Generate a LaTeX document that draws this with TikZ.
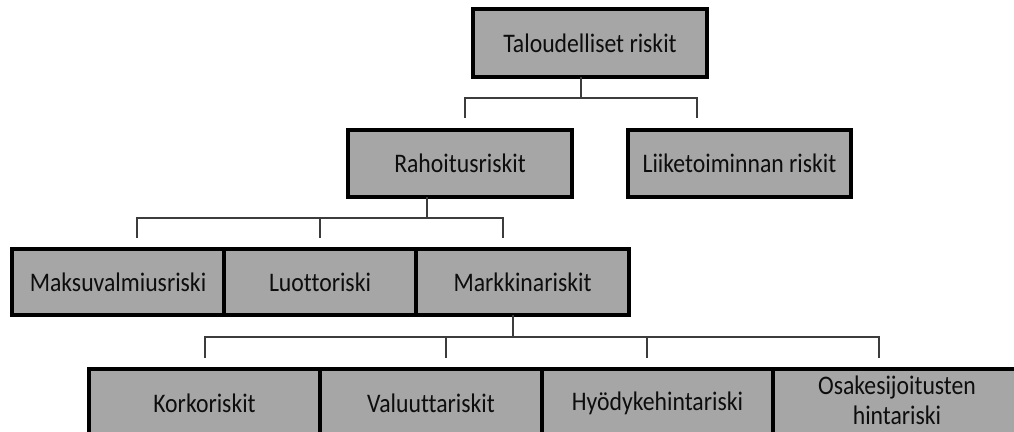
\documentclass[tikz,border=0pt]{standalone}
\usepackage{fontspec}
\setmainfont[Ligatures={NoCommon},FakeStretch=0.885]{Carlito}
\definecolor{boxgray}{RGB}{166,166,166}
\definecolor{linegray}{RGB}{60,60,60}
\newcommand{\px}{0.75pt}
\tikzset{
  riskbox/.style={draw=black, fill=boxgray, line width=2.3pt, inner sep=0pt,
    text=black!95, align=center, font=\fontsize{20.1}{23}\selectfont},
  tree/.style={draw=linegray, line width=1.1pt}
}
\begin{document}
\begin{tikzpicture}[x=0.75pt,y=-0.75pt]
\useasboundingbox (0,0) rectangle (1014,432);
\clip (0,0) rectangle (1014,432);
%%% top level
\node[riskbox, minimum width=234*\px, minimum height=68*\px] (tal) at (590,43) {Taloudelliset riskit};
%%% second level
\node[riskbox, minimum width=224*\px, minimum height=67*\px] (rah) at (460,163.5) {Rahoitusriskit};
\node[riskbox, minimum width=223*\px, minimum height=67*\px] (lii) at (739.5,163.5) {Liiketoiminnan riskit};
%%%%%% third level (boxes side by side)
\node[riskbox, minimum width=212*\px, minimum height=66*\px] (mak) at (118,282) {Maksuvalmiusriski};
\node[riskbox, minimum width=192*\px, minimum height=66*\px] (luo) at (320,282) {Luottoriski};
\node[riskbox, minimum width=213*\px, minimum height=66*\px] (mar) at (522.5,282) {Markkinariskit};
%%%%%% fourth level
\node[riskbox, minimum width=231*\px, minimum height=68*\px] (kor) at (204.5,403) {Korkoriskit};
\node[riskbox, minimum width=222*\px, minimum height=68*\px] (val) at (431,403) {Valuuttariskit};
\node[riskbox, minimum width=231*\px, minimum height=68*\px] (hyo) at (657.5,403) {Hyödykehintariski};
\node[riskbox, minimum width=248*\px, minimum height=68*\px, text depth=4pt] (osa) at (897,403) {Osakesijoitusten\\hintariski};
%%%%% bracket under Taloudelliset riskit
\coordinate (talstem) at (581,77);
\coordinate (talbar) at (581,98);
\coordinate (rahdrop) at (465,118);
\coordinate (liidrop) at (697,118);
\draw[tree] (talstem) -- (talbar);
\draw[tree] (rahdrop) |- (talbar) -| (liidrop);
%%%%% bracket under Rahoitusriskit
\coordinate (rahstem) at (427,197);
\coordinate (rahbar) at (427,218);
\coordinate (makdrop) at (137,238);
\coordinate (luodrop) at (320,238);
\coordinate (mardrop) at (503,238);
\draw[tree] (rahstem) -- (rahbar);
\draw[tree] (makdrop) |- (rahbar) -| (mardrop);
\draw[tree] (luodrop) -- (luodrop |- rahbar);
%%%%% bracket under Markkinariskit
\coordinate (marstem) at (513,315);
\coordinate (marbar) at (513,337);
\coordinate (kordrop) at (205,358);
\coordinate (valdrop) at (446,358);
\coordinate (hyodrop) at (647,358);
\coordinate (osadrop) at (879,358);
\draw[tree] (marstem) -- (marbar);
\draw[tree] (kordrop) |- (marbar) -| (osadrop);
\draw[tree] (valdrop) -- (valdrop |- marbar);
\draw[tree] (hyodrop) -- (hyodrop |- marbar);
\end{tikzpicture}
\end{document}
